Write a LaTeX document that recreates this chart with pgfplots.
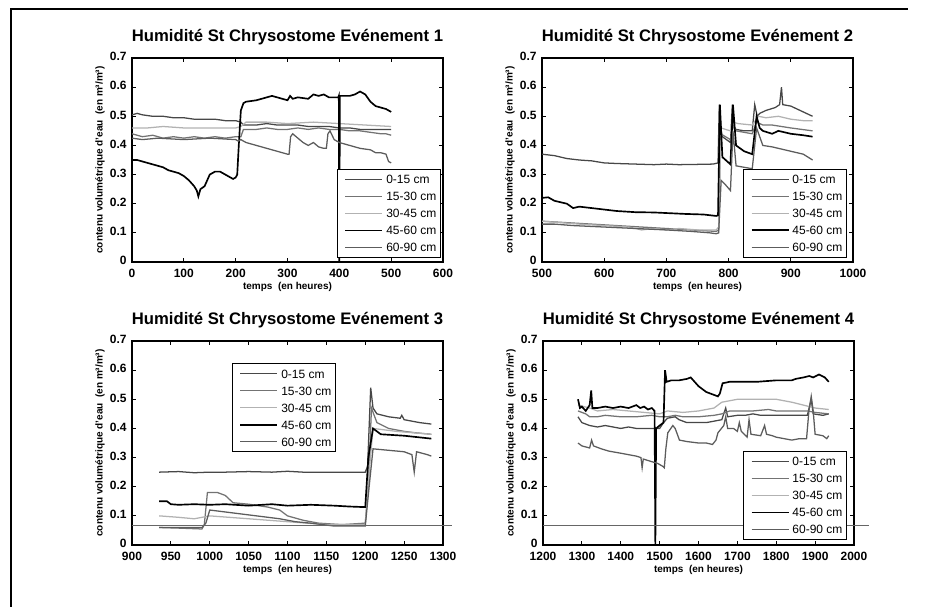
\documentclass[border=0pt]{standalone}
\usepackage{fontspec}
\setmainfont{Liberation Sans}
\usepackage{pgfplots}
\pgfplotsset{compat=1.18}

\pgfplotsset{
  sA/.style={color=black!72, line width=0.95pt, mark=none},
  sB/.style={color=black!55, line width=0.95pt, mark=none},
  sC/.style={color=black!30, line width=0.95pt, mark=none},
  sD/.style={color=black, line width=1.25pt, mark=none},
  sE/.style={color=black!64, line width=0.95pt, mark=none},
  scan/.style={color=black!60, line width=0.5pt, mark=none, forget plot},
  hum/.style={
    scale only axis, width=233.25pt, height=153pt,
    ymin=0, ymax=0.7, ytick={0,0.1,0.2,0.3,0.4,0.5,0.6,0.7},
    axis line style={line width=1.1pt},
    major tick length=3pt,
    tick style={line width=0.7pt, black},
    tick label style={font=\fontsize{9}{9}\selectfont\bfseries},
    xticklabel style={yshift=-1.5pt},
    yticklabel style={xshift=-0.5pt, yshift=1pt},
    /pgf/number format/assume math mode=true,
    /pgf/number format/1000 sep={},
    yticklabel style={/pgf/number format/fixed, /pgf/number format/precision=1},
    title style={at={(axis description cs:0.5,1)}, anchor=base, yshift=6.75pt,
      font=\fontsize{12.5}{14}\selectfont\bfseries},
    xlabel style={at={(axis description cs:0.5,-0.1225)}, anchor=center,
      font=\fontsize{7.5}{8}\selectfont\bfseries},
    ylabel style={at={(axis description cs:-0.103,0.5)}, anchor=center,
      font=\fontsize{7.5}{8}\selectfont\bfseries},
    xlabel={temps\ \ (en heures)},
    ylabel={contenu volumétrique d'eau\ \ (en m³/m³)},
    legend cell align=left,
    legend image code/.code={\path (-2.25pt,0pt); \draw[##1] (0pt,0pt) -- (27.75pt,0pt);},
    legend style={font=\fontsize{9}{9}\selectfont, draw=black, line width=1pt,
      inner xsep=3pt, inner ysep=4.25pt, row sep=6.25pt,
      nodes={inner sep=0pt, text height=6.5pt, text depth=0pt},
      /tikz/every odd column/.append style={column sep=2.25pt}},
  },
}

\begin{document}
\begin{tikzpicture}
\path[use as bounding box] (0,0) rectangle (698.25pt,-455.25pt);
\draw[line width=1.5pt] (7.5pt,-7.1pt) -- (681pt,-7.1pt);
\draw[line width=1.5pt] (8.25pt,-7.1pt) -- (8.25pt,-455.25pt);

% ---------- evenement 1
\begin{axis}[hum, at={(99pt,-196.5pt)}, anchor=south west,
  xmin=0, xmax=600, xtick={0,100,200,300,400,500,600},
  title={Humidité St Chrysostome Evénement 1},
  legend style={at={(axis description cs:0.9936,0.0196)}, anchor=south east}]
\addplot[sA] coordinates {(0,0.505)(10,0.51)(20,0.505)(40,0.50)(60,0.50)(80,0.495)(100,0.495)(120,0.49)(140,0.49)(160,0.49)(180,0.485)(200,0.485)(210,0.48)(215,0.47)(240,0.47)(260,0.475)(280,0.47)(300,0.47)(320,0.47)(340,0.465)(360,0.465)(380,0.465)(400,0.46)(420,0.46)(440,0.455)(460,0.455)(480,0.455)(500,0.455)};
\addplot[sB] coordinates {(0,0.44)(20,0.43)(40,0.435)(60,0.425)(80,0.43)(100,0.425)(120,0.43)(140,0.425)(160,0.43)(180,0.425)(200,0.43)(210,0.43)(215,0.455)(240,0.455)(260,0.46)(280,0.455)(300,0.455)(320,0.46)(340,0.455)(360,0.46)(380,0.455)(400,0.455)(420,0.45)(440,0.45)(460,0.445)(480,0.44)(490,0.44)(500,0.435)};
\addplot[sC] coordinates {(0,0.46)(30,0.46)(60,0.465)(100,0.46)(150,0.46)(200,0.46)(210,0.465)(220,0.48)(260,0.48)(300,0.475)(350,0.48)(400,0.475)(450,0.47)(500,0.465)};
\addplot[sD] coordinates {(0,0.35)(10,0.35)(20,0.345)(30,0.34)(40,0.335)(50,0.33)(60,0.325)(70,0.315)(80,0.31)(90,0.305)(100,0.295)(110,0.28)(120,0.26)(125,0.245)(128,0.225)(132,0.25)(140,0.26)(145,0.28)(150,0.30)(160,0.31)(170,0.31)(180,0.30)(190,0.29)(195,0.285)(200,0.29)(203,0.30)(206,0.40)(210,0.52)(215,0.545)(220,0.55)(240,0.555)(260,0.565)(270,0.57)(280,0.565)(290,0.56)(300,0.555)(305,0.57)(310,0.56)(320,0.565)(340,0.56)(350,0.575)(360,0.57)(370,0.575)(380,0.565)(390,0.565)(398,0.565)(399,0.57)(400,0)(401,0.57)(420,0.57)(430,0.575)(440,0.585)(450,0.575)(460,0.55)(470,0.535)(480,0.53)(490,0.525)(500,0.515)};
\addplot[sE] coordinates {(0,0.425)(20,0.42)(50,0.425)(100,0.42)(150,0.425)(200,0.42)(205,0.415)(210,0.42)(220,0.41)(240,0.40)(260,0.39)(280,0.38)(290,0.375)(300,0.37)(303,0.37)(306,0.43)(310,0.44)(320,0.425)(330,0.41)(340,0.40)(350,0.41)(360,0.395)(370,0.39)(375,0.39)(378,0.44)(382,0.45)(390,0.42)(400,0.41)(420,0.40)(440,0.39)(460,0.385)(470,0.375)(480,0.375)(490,0.37)(495,0.345)(500,0.34)};
\legend{0-15 cm,15-30 cm,30-45 cm,45-60 cm,60-90 cm}
\end{axis}

% ---------- evenement 2
\begin{axis}[hum, at={(406.5pt,-196.5pt)}, anchor=south west,
  xmin=500, xmax=1000, xtick={500,600,700,800,900,1000},
  title={Humidité St Chrysostome Evénement 2},
  legend style={at={(axis description cs:0.981,0.02)}, anchor=south east}]
\addplot[sA] coordinates {(500,0.37)(520,0.365)(540,0.355)(560,0.35)(580,0.347)(600,0.34)(620,0.338)(650,0.336)(680,0.334)(700,0.336)(720,0.334)(750,0.335)(775,0.336)(783,0.34)(785,0.54)(788,0.45)(790,0.43)(803,0.41)(806,0.54)(809,0.46)(812,0.455)(825,0.45)(838,0.45)(842,0.54)(846,0.50)(850,0.51)(860,0.52)(875,0.53)(882,0.54)(885,0.60)(887,0.54)(900,0.535)(915,0.52)(925,0.51)(935,0.50)};
\addplot[sB] coordinates {(500,0.14)(540,0.135)(580,0.13)(620,0.125)(660,0.12)(700,0.115)(740,0.11)(780,0.105)(784,0.11)(787,0.44)(795,0.43)(803,0.42)(808,0.47)(812,0.45)(838,0.44)(845,0.48)(855,0.47)(870,0.47)(900,0.46)(935,0.45)};
\addplot[sC] coordinates {(500,0.14)(530,0.135)(560,0.13)(600,0.125)(640,0.12)(660,0.11)(680,0.115)(700,0.11)(720,0.115)(750,0.11)(780,0.11)(784,0.12)(788,0.46)(795,0.455)(803,0.45)(808,0.48)(815,0.475)(838,0.47)(848,0.50)(860,0.495)(880,0.50)(900,0.49)(920,0.485)(935,0.485)};
\addplot[sD] coordinates {(500,0.22)(510,0.222)(520,0.21)(540,0.20)(550,0.185)(560,0.19)(580,0.185)(600,0.18)(620,0.175)(650,0.171)(680,0.17)(700,0.168)(730,0.165)(760,0.163)(780,0.158)(783,0.16)(786,0.54)(790,0.36)(803,0.335)(807,0.54)(812,0.40)(825,0.38)(838,0.37)(845,0.50)(850,0.46)(855,0.45)(870,0.44)(880,0.45)(900,0.44)(920,0.435)(935,0.43)};
\addplot[sE] coordinates {(500,0.13)(520,0.13)(550,0.125)(600,0.12)(650,0.115)(700,0.11)(740,0.105)(770,0.10)(780,0.097)(784,0.10)(788,0.28)(795,0.265)(803,0.245)(807,0.45)(812,0.33)(825,0.325)(838,0.32)(845,0.46)(855,0.40)(870,0.395)(880,0.39)(900,0.38)(920,0.37)(935,0.35)};
\legend{0-15 cm,15-30 cm,30-45 cm,45-60 cm,60-90 cm}
\end{axis}

% ---------- evenement 3
\begin{axis}[hum, at={(99pt,-408.75pt)}, anchor=south west, clip=false,
  xmin=900, xmax=1300, xtick={900,950,1000,1050,1100,1150,1200,1250,1300},
  title={Humidité St Chrysostome Evénement 3},
  legend style={at={(axis description cs:0.3215,0.892)}, anchor=north west}]
\addplot[sA] coordinates {(935,0.25)(960,0.252)(980,0.248)(1000,0.25)(1020,0.25)(1050,0.252)(1080,0.25)(1100,0.253)(1120,0.25)(1150,0.25)(1180,0.25)(1200,0.25)(1203,0.27)(1207,0.54)(1210,0.47)(1215,0.45)(1230,0.44)(1245,0.435)(1247,0.445)(1250,0.43)(1270,0.42)(1285,0.415)};
\addplot[sB] coordinates {(935,0.06)(960,0.058)(990,0.055)(993,0.07)(997,0.18)(1010,0.18)(1020,0.17)(1030,0.145)(1050,0.14)(1075,0.13)(1090,0.12)(1100,0.10)(1120,0.085)(1140,0.075)(1170,0.07)(1200,0.075)(1204,0.20)(1208,0.47)(1215,0.42)(1230,0.40)(1250,0.39)(1265,0.385)(1285,0.38)};
\addplot[sC] coordinates {(935,0.10)(960,0.095)(980,0.09)(1000,0.10)(1050,0.09)(1100,0.08)(1150,0.07)(1200,0.07)(1205,0.25)(1210,0.40)(1240,0.39)(1285,0.38)};
\addplot[sD] coordinates {(935,0.15)(945,0.15)(950,0.14)(960,0.138)(980,0.14)(1000,0.138)(1020,0.14)(1050,0.135)(1080,0.14)(1100,0.135)(1130,0.138)(1160,0.135)(1180,0.132)(1200,0.13)(1204,0.30)(1210,0.40)(1220,0.38)(1250,0.375)(1285,0.365)};
\addplot[sE] coordinates {(935,0.06)(960,0.06)(990,0.06)(995,0.075)(1000,0.12)(1030,0.11)(1060,0.10)(1090,0.09)(1110,0.08)(1130,0.075)(1160,0.065)(1200,0.065)(1205,0.20)(1210,0.33)(1230,0.325)(1250,0.32)(1260,0.31)(1263,0.25)(1266,0.32)(1280,0.31)(1285,0.305)};
\addplot[scan] coordinates {(900,0.066)(1312,0.066)};
\legend{0-15 cm,15-30 cm,30-45 cm,45-60 cm,60-90 cm}
\end{axis}

% ---------- evenement 4
\begin{axis}[hum, at={(407.25pt,-408.75pt)}, anchor=south west, clip=false,
  xmin=1200, xmax=2000, xtick={1200,1300,1400,1500,1600,1700,1800,1900,2000},
  title={Humidité St Chrysostome Evénement 4},
  legend style={at={(axis description cs:0.978,0.0245)}, anchor=south east}]
\addplot[sA] coordinates {(1290,0.44)(1300,0.42)(1320,0.41)(1340,0.405)(1360,0.41)(1380,0.405)(1400,0.40)(1420,0.405)(1440,0.40)(1460,0.40)(1480,0.40)(1500,0.40)(1510,0.42)(1520,0.435)(1540,0.44)(1550,0.43)(1570,0.42)(1600,0.42)(1620,0.42)(1640,0.425)(1660,0.43)(1670,0.47)(1675,0.44)(1700,0.445)(1720,0.445)(1740,0.45)(1760,0.445)(1800,0.445)(1840,0.445)(1880,0.445)(1890,0.50)(1895,0.45)(1920,0.445)(1935,0.45)};
\addplot[sB] coordinates {(1290,0.46)(1310,0.45)(1320,0.44)(1340,0.44)(1360,0.445)(1400,0.44)(1440,0.44)(1480,0.445)(1500,0.44)(1520,0.44)(1540,0.445)(1560,0.44)(1600,0.44)(1640,0.445)(1660,0.45)(1680,0.46)(1700,0.46)(1740,0.46)(1780,0.465)(1800,0.46)(1840,0.46)(1880,0.46)(1900,0.455)(1935,0.45)};
\addplot[sC] coordinates {(1290,0.48)(1320,0.47)(1340,0.46)(1380,0.465)(1420,0.46)(1460,0.455)(1500,0.45)(1520,0.46)(1560,0.455)(1600,0.46)(1640,0.47)(1660,0.49)(1700,0.50)(1750,0.50)(1800,0.50)(1840,0.49)(1870,0.48)(1900,0.47)(1935,0.465)};
\addplot[sD] coordinates {(1290,0.50)(1295,0.47)(1300,0.475)(1310,0.46)(1320,0.48)(1324,0.53)(1327,0.47)(1340,0.47)(1360,0.475)(1380,0.47)(1400,0.475)(1420,0.47)(1440,0.48)(1450,0.47)(1460,0.475)(1470,0.465)(1480,0.47)(1487,0.46)(1489,0)(1491,0.40)(1500,0.41)(1510,0.42)(1514,0.60)(1518,0.56)(1530,0.565)(1550,0.565)(1570,0.57)(1580,0.575)(1590,0.56)(1600,0.545)(1620,0.525)(1640,0.515)(1650,0.51)(1655,0.52)(1662,0.555)(1680,0.56)(1700,0.56)(1750,0.56)(1800,0.565)(1840,0.565)(1850,0.57)(1870,0.575)(1885,0.58)(1895,0.575)(1910,0.585)(1925,0.575)(1935,0.56)};
\addplot[sE] coordinates {(1290,0.35)(1300,0.34)(1320,0.333)(1325,0.36)(1330,0.34)(1350,0.33)(1370,0.322)(1400,0.315)(1420,0.31)(1440,0.305)(1452,0.30)(1455,0.265)(1458,0.295)(1470,0.29)(1482,0.285)(1495,0.28)(1508,0.27)(1512,0.265)(1516,0.33)(1521,0.385)(1534,0.41)(1540,0.40)(1551,0.36)(1570,0.355)(1600,0.35)(1620,0.35)(1636,0.345)(1645,0.36)(1650,0.385)(1665,0.41)(1670,0.44)(1675,0.40)(1690,0.40)(1700,0.39)(1705,0.42)(1710,0.39)(1725,0.37)(1730,0.43)(1735,0.38)(1760,0.375)(1770,0.41)(1775,0.38)(1790,0.375)(1800,0.37)(1820,0.365)(1840,0.36)(1860,0.365)(1878,0.365)(1884,0.46)(1890,0.51)(1895,0.46)(1900,0.38)(1920,0.375)(1930,0.365)(1935,0.375)};
\addplot[scan] coordinates {(1200,0.066)(2038,0.066)};
\legend{0-15 cm,15-30 cm,30-45 cm,45-60 cm,60-90 cm}
\end{axis}
\end{tikzpicture}
\end{document}
